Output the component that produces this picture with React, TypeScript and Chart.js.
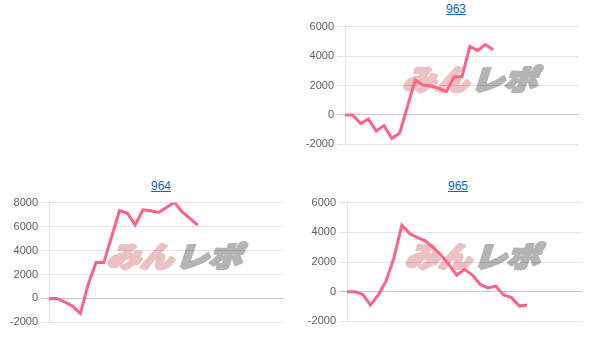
import React, { useEffect, useRef } from "react";
import { Chart, registerables } from "chart.js";

Chart.register(...registerables);

// ---- data ----
const dayLabels = [
  "1", "2", "3", "4", "5", "6", "7", "8", "9", "10",
  "11", "12", "13", "14", "15", "16", "17", "18", "19", "20",
  "21", "22", "23", "24", "25", "26", "27", "28", "29", "30", "31",
];

const title963 = "963";
const title964 = "964";
const title965 = "965";

const values963 = [0, 0, -580, -270, -1100, -720, -1590, -1250, 560, 2370, 2030, 1970, 1810, 1590, 2590, 2590, 4650, 4380, 4780, 4430];
const values964 = [0, 0, -300, -640, -1260, 1170, 2990, 2990, 5170, 7320, 7120, 6140, 7400, 7320, 7180, 7600, 8020, 7230, 6680, 6120];
const values965 = [0, 0, -180, -900, -225, 720, 2290, 4470, 3910, 3640, 3420, 2970, 2470, 1840, 1120, 1510, 1120, 490, 250, 380, -225, -400, -970, -900];

const yRange963 = [-2000, 6000];
const yRange964 = [-2000, 8000];
const yRange965 = [-2000, 6000];
const yStep = 2000;

const watermarkLeft = "みん";
const watermarkRight = "レポ";

const watermarkPlugin = {
  id: "watermark",
  beforeDraw(chart: any) {
    const a = chart.chartArea;
    if (!a) return;
    const ctx = chart.ctx;
    const cx = (a.left + a.right) / 2 + 9;
    const cy = (a.top + a.bottom) / 2 - 7;
    ctx.save();
    ctx.translate(cx, cy);
    ctx.transform(1.18, 0, -0.32, 1, 0, 0);
    ctx.font = "900 28px 'Noto Sans CJK JP'";
    ctx.textBaseline = "middle";
    ctx.lineJoin = "round";
    ctx.lineWidth = 3;
    ctx.textAlign = "right";
    ctx.fillStyle = "#edc0c2";
    ctx.strokeStyle = "#edc0c2";
    ctx.strokeText(watermarkLeft, 1, 1);
    ctx.fillText(watermarkLeft, 1, 1);
    ctx.textAlign = "left";
    ctx.fillStyle = "#b4b4b4";
    ctx.strokeStyle = "#b4b4b4";
    ctx.strokeText(watermarkRight, 3, 1);
    ctx.fillText(watermarkRight, 3, 1);
    ctx.restore();
  },
};

type Props = {
  title: string;
  values: number[];
  yRange: number[];
  left: number;
  top: number;
  width: number;
  height: number;
  titleCenter: number;
  titleTop: number;
};

function MiniChart(p: Props) {
  const ref = useRef<HTMLCanvasElement | null>(null);
  useEffect(() => {
    if (!ref.current) return;
    const chart = new Chart(ref.current, {
      type: "line",
      data: {
        labels: dayLabels,
        datasets: [
          {
            data: p.values,
            borderColor: "rgb(255, 99, 132)",
            backgroundColor: "rgb(255, 99, 132)",
            borderWidth: 3,
            pointRadius: 0,
            pointHoverRadius: 0,
            tension: 0,
            fill: false,
          },
        ],
      },
      options: {
        animation: false,
        responsive: false,
        events: [],
        layout: { padding: 0 },
        plugins: {
          legend: { display: false },
          tooltip: { enabled: false },
          title: { display: false },
        },
        scales: {
          x: { display: false, offset: false },
          y: {
            min: p.yRange[0],
            max: p.yRange[1],
            ticks: {
              stepSize: yStep,
              color: "#5e5e5e",
              padding: 3,
              font: { size: 11, family: "'Liberation Sans', Arial, sans-serif" },
              callback: (v: any) => String(v),
            },
            grid: {
              color: (c: any) =>
                c.tick && c.tick.value === 0 ? "rgba(0,0,0,0.22)" : "rgba(0,0,0,0.1)",
              tickLength: 8,
            },
            border: { display: true, color: "rgba(0,0,0,0.1)" },
            afterFit: (scale: any) => {
              scale.width = 42;
            },
          },
        },
      },
      plugins: [watermarkPlugin],
    });
    return () => chart.destroy();
  }, []);

  return (
    <>
      <div
        style={{
          position: "absolute",
          left: p.titleCenter - 50,
          top: p.titleTop,
          width: 100,
          textAlign: "center",
          fontFamily: "'Liberation Sans', Arial, sans-serif",
          fontSize: 12,
          lineHeight: "14px",
        }}
      >
        <a href="#" style={{ color: "#0b67c9", textDecoration: "underline" }}>
          {p.title}
        </a>
      </div>
      <canvas
        ref={ref}
        width={p.width}
        height={p.height}
        style={{
          position: "absolute",
          left: p.left,
          top: p.top,
          width: p.width,
          height: p.height,
        }}
      />
    </>
  );
}

export default function App() {
  return (
    <div
      style={{
        position: "absolute",
        left: 0,
        top: 0,
        width: 608,
        height: 347,
        background: "#fff",
      }}
    >
      <MiniChart
        title={title963}
        values={values963}
        yRange={yRange963}
        left={303}
        top={17}
        width={276}
        height={137}
        titleCenter={456}
        titleTop={2}
      />
      <MiniChart
        title={title964}
        values={values964}
        yRange={yRange964}
        left={7}
        top={193}
        width={277}
        height={139}
        titleCenter={161}
        titleTop={179}
      />
      <MiniChart
        title={title965}
        values={values965}
        yRange={yRange965}
        left={305}
        top={193}
        width={277}
        height={138}
        titleCenter={458}
        titleTop={179}
      />
    </div>
  );
}
